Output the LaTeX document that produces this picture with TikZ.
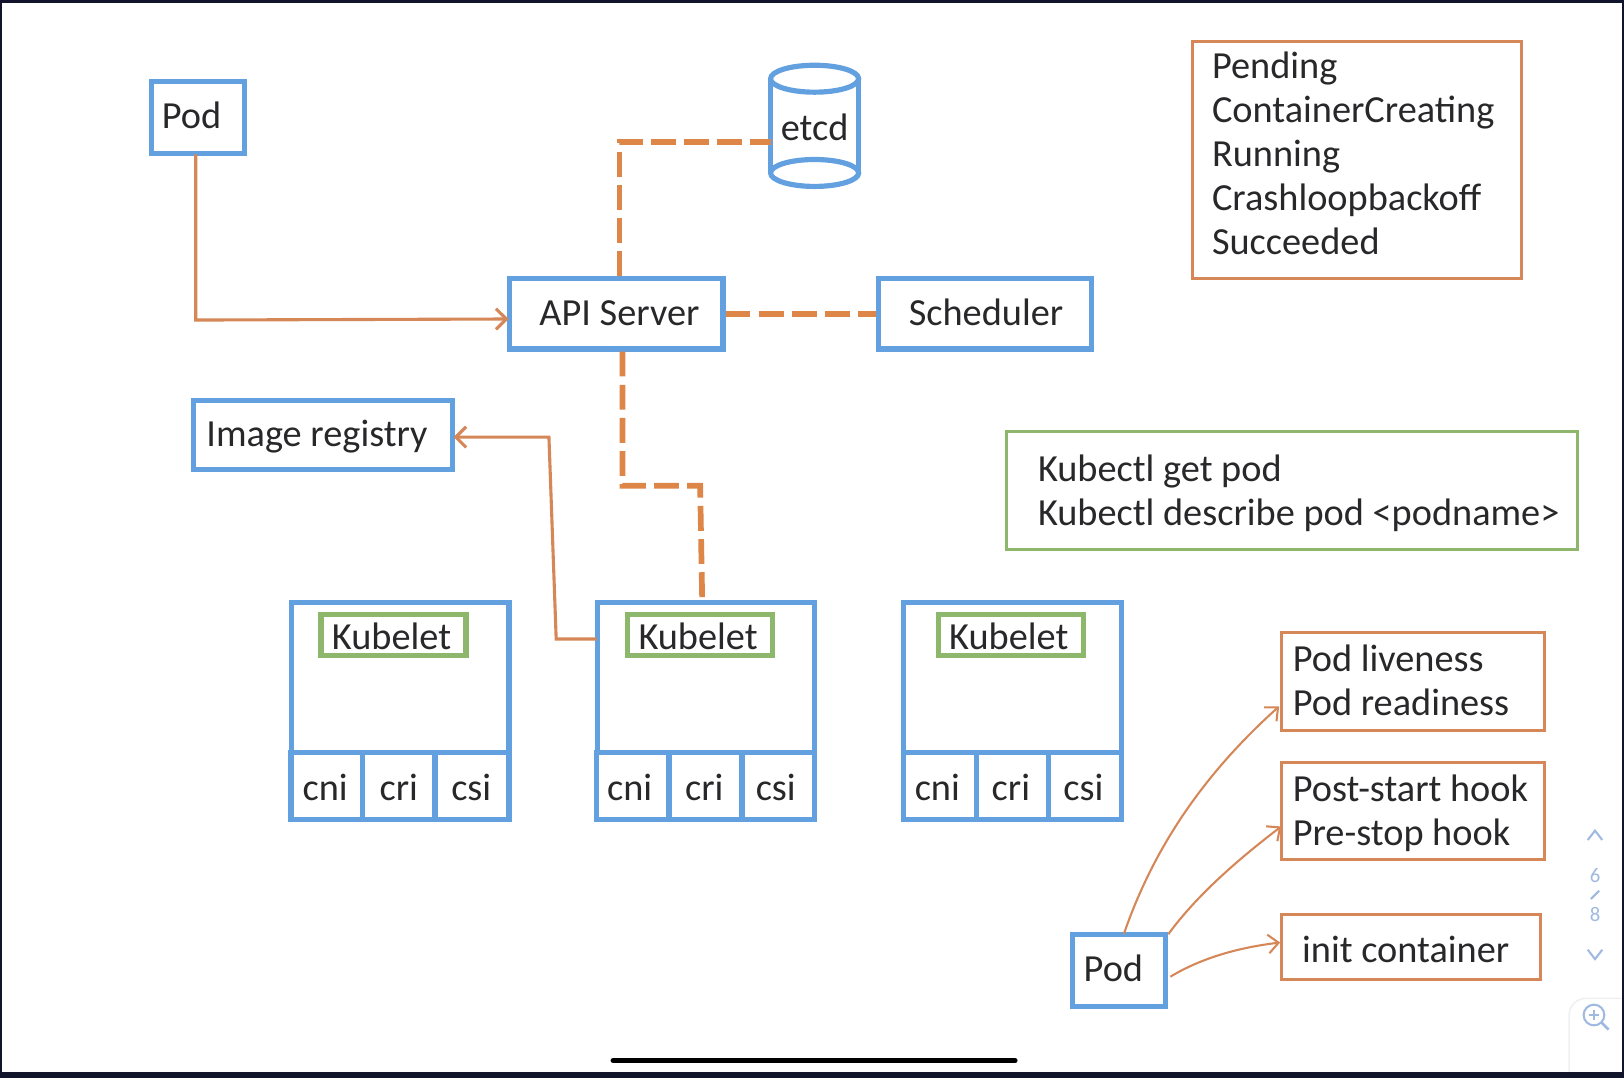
\documentclass[tikz,border=0pt]{standalone}
\usepackage{fontspec}
\setmainfont{Carlito}
\usetikzlibrary{arrows.meta}

\definecolor{blu}{RGB}{98, 160, 224}
\definecolor{oran}{RGB}{214, 135, 88}
\definecolor{orand}{RGB}{222, 134, 72}
\definecolor{greeb}{RGB}{141, 184, 107}
\definecolor{ink}{RGB}{40, 40, 42}
\definecolor{navy}{RGB}{18, 20, 44}
\definecolor{pale}{RGB}{160, 185, 225}

\tikzset{
  bluebox/.style={draw=blu, line width=5pt, fill=white, text=ink},
  kubebox/.style={draw=greeb, line width=5pt, fill=white, text=ink, minimum width=140pt, minimum height=39pt},
  infobox/.style={draw=oran, line width=3pt, fill=white, anchor=west},
  cmdbox/.style={draw=greeb, line width=3pt, fill=white, anchor=west},
  tag/.style={text=ink, inner sep=0pt},
  notetext/.style={text=ink, align=left, anchor=west, inner sep=0pt},
  pagetext/.style={text=pale, font=\fontsize{20}{20}\selectfont},
  dashlink/.style={draw=orand, line width=5.5pt, dash pattern=on 24pt off 8pt},
  solidlink/.style={draw=oran, line width=3pt, -{Straight Barb[length=10pt,width=20pt]}},
  thinlink/.style={draw=oran, line width=2pt, -{Straight Barb[length=10pt,width=18pt]}}
}

\begin{document}
\begin{tikzpicture}[x=1pt, y=-1pt, font=\fontsize{37}{42.5}\selectfont]
  \useasboundingbox (0, 0) rectangle (1568, 1041);
  \fill[navy] (0, 0) rectangle (1568, 1041);
  \fill[white] (2, 3) rectangle (1566, 1035);

  % pods and control plane
  \node[bluebox, minimum width=90pt, minimum height=69pt] (podA) at (191, 113.5) {};
  \node[tag] (podAtext) at (185, 111) {Pod};
  \node[bluebox, minimum width=206pt, minimum height=68pt] (api) at (595, 303) {};
  \node[tag] (apitext) at (598, 302) {API Server};
  \node[bluebox, minimum width=206pt, minimum height=68pt] (sched) at (951, 303) {};
  \node[tag] (schedtext) at (952, 302) {Scheduler};
  \node[bluebox, minimum width=250pt, minimum height=66pt] (registry) at (312, 420) {};
  \node[tag] (registrytext) at (306, 422) {Image registry};

  % etcd
  \draw[blu, line width=5pt] (744, 76) -- (744, 167);
  \draw[blu, line width=5pt] (829, 76) -- (829, 167);
  \draw[blu, line width=5pt] (786.5, 76) ellipse [x radius=42.5, y radius=13];
  \draw[blu, line width=5pt, fill=white] (786.5, 167) ellipse [x radius=42.5, y radius=13];
  \node[tag] (etcd) at (786.5, 123) {etcd};
  \coordinate (etcdin) at (744, 137);

  % workers
  \node[bluebox, minimum width=210pt, minimum height=210pt] (workerA) at (386.5, 686.5) {};
  \node[bluebox, minimum width=69pt, minimum height=65pt] (cniA) at (315.5, 759) {};
  \node[bluebox, minimum width=70pt, minimum height=65pt] (criA) at (385, 759) {};
  \node[bluebox, minimum width=71pt, minimum height=65pt] (csiA) at (456, 759) {};
  \node[tag] (cniAtext) at (314, 760) {cni};
  \node[tag] (criAtext) at (385, 760) {cri};
  \node[tag] (csiAtext) at (455, 760) {csi};
  \node[kubebox] (kubeA) at (380, 613) {};
  \node[tag] (kubeAtext) at (378, 614) {Kubelet};

  \node[bluebox, minimum width=210pt, minimum height=210pt] (workerB) at (681.5, 686.5) {};
  \node[bluebox, minimum width=70pt, minimum height=65pt] (cniB) at (611, 759) {};
  \node[bluebox, minimum width=70pt, minimum height=65pt] (criB) at (681, 759) {};
  \node[bluebox, minimum width=70pt, minimum height=65pt] (csiB) at (751.5, 759) {};
  \node[tag] (cniBtext) at (608, 760) {cni};
  \node[tag] (criBtext) at (680, 760) {cri};
  \node[tag] (csiBtext) at (749, 760) {csi};
  \node[kubebox] (kubeB) at (676, 613) {};
  \node[tag] (kubeBtext) at (674, 614) {Kubelet};

  \node[bluebox, minimum width=210pt, minimum height=210pt] (workerC) at (977.5, 686.5) {};
  \node[bluebox, minimum width=70pt, minimum height=65pt] (cniC) at (907.5, 759) {};
  \node[bluebox, minimum width=69pt, minimum height=65pt] (criC) at (977.5, 759) {};
  \node[bluebox, minimum width=70pt, minimum height=65pt] (csiC) at (1047.5, 759) {};
  \node[tag] (cniCtext) at (905, 760) {cni};
  \node[tag] (criCtext) at (976, 760) {cri};
  \node[tag] (csiCtext) at (1046, 760) {csi};
  \node[kubebox] (kubeC) at (976, 613) {};
  \node[tag] (kubeCtext) at (974, 614) {Kubelet};

  % notes
  \node[infobox, minimum width=318pt, minimum height=229pt] (states) at (1149.5, 154.5) {};
  \node[notetext] (statestext) at (1170, 148)
    {Pending\\ContainerCreating\\Running\\Crashloopbackoff\\Succeeded};
  \node[cmdbox, minimum width=551pt, minimum height=114pt] (kubectl) at (970.5, 473.5) {};
  \node[notetext] (kubectltext) at (1002, 476)
    {Kubectl get pod\\Kubectl describe pod <podname>};
  \node[infobox, minimum width=254pt, minimum height=94pt] (probes) at (1235.5, 658) {};
  \node[notetext] (probestext) at (1248, 656.5) {Pod liveness\\Pod readiness};
  \node[infobox, minimum width=254pt, minimum height=94pt] (hooks) at (1235.5, 783) {};
  \node[notetext] (hookstext) at (1248, 785) {Post-start hook\\Pre-stop hook};
  \node[infobox, minimum width=250pt, minimum height=63pt] (init) at (1235.5, 914.5) {};
  \node[notetext] (inittext) at (1257, 917) {init container};
  \node[bluebox, minimum width=90pt, minimum height=69pt] (podB) at (1080.5, 937) {};
  \node[tag] (podBtext) at (1075, 935) {Pod};

  % connectors
  \coordinate (podAout) at (189, 149);
  \coordinate (apiin) at (491, 308);
  \draw[solidlink] (podAout) -- (189, 309) -- (apiin);
  \draw[dashlink] (api.north) ++(3, 0) coordinate (apiup) -- (598, 137) -- (etcdin);
  \draw[dashlink] (api.east) -- (sched.west);
  \draw[dashlink] (api.south) ++(6, 0) coordinate (apidown) -- (601, 469) -- (676, 469) -- (678, 581);
  \coordinate (workerBout) at (576, 617);
  \coordinate (registryin) at (438, 422);
  \draw[solidlink] (workerBout) -- (537, 617) -- (530, 422) -- (registryin);

  \coordinate (podBa) at (1085, 902);
  \coordinate (podBb) at (1128, 902);
  \coordinate (podBc) at (1130, 943);
  \coordinate (probesin) at (1235, 682);
  \coordinate (hooksin) at (1237, 798);
  \coordinate (initin) at (1236, 910);
  \draw[thinlink] (podBa) .. controls (1115, 815) and (1165, 745) .. (probesin);
  \draw[thinlink] (podBb) .. controls (1155, 865) and (1195, 830) .. (hooksin);
  \draw[thinlink] (podBc) .. controls (1160, 925) and (1195, 915) .. (initin);

  % viewer controls
  \draw[black!6, line width=1.5pt] (1515, 1035) -- (1515, 980) arc[start angle=180, end angle=270, radius=16] -- (1566, 964);
  \draw[pale, line width=2pt] (1533, 811) -- (1540, 802) -- (1547, 811);
  \node[pagetext] (pageA) at (1540, 845) {6};
  \draw[pale, line width=2pt] (1536, 868) -- (1544, 860);
  \node[pagetext] (pageB) at (1540, 883) {8};
  \draw[pale, line width=2pt] (1533, 917) -- (1540, 926) -- (1547, 917);
  \draw[pale, line width=2pt] (1539, 980) circle (10);
  \draw[pale, line width=2.5pt] (1546, 987) -- (1553, 994);
  \draw[pale, line width=1.5pt] (1534, 980) -- (1544, 980) (1539, 975) -- (1539, 985);
  \draw[black, line width=5pt, line cap=round] (592, 1024) -- (980, 1024);
\end{tikzpicture}
\end{document}
